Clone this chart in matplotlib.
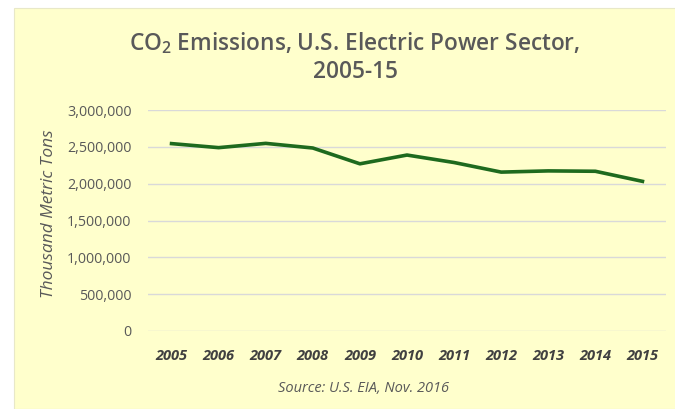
import matplotlib
matplotlib.use('Agg')
import matplotlib.pyplot as plt
from matplotlib.patches import Rectangle
from matplotlib.ticker import FuncFormatter

years = ['2005', '2006', '2007', '2008', '2009', '2010',
         '2011', '2012', '2013', '2014', '2015']
emissions = [2543838, 2488918, 2547032, 2484012, 2269508, 2388596,
             2287071, 2156875, 2173334, 2168284, 2031452]
y_ticks = [0, 500000, 1000000, 1500000, 2000000, 2500000, 3000000]

plt.rcParams['font.family'] = ['Open Sans', 'DejaVu Sans']
plt.rcParams['mathtext.default'] = 'regular'

W, H = 675, 409
fig = plt.figure(figsize=(W / 100, H / 100), dpi=100)
fig.patch.set_facecolor('white')
bg = '#FFFFCC'
fig.patches.append(Rectangle((14 / W, 0), 1, 1 - 8 / H, transform=fig.transFigure,
                             facecolor=bg, edgecolor='#E8E8C8', lw=0.8, zorder=-5))

ax = fig.add_axes([148 / W, 1 - 331 / H, (666 - 148) / W, (331 - 110) / H])
ax.set_zorder(2)
ax.patch.set_alpha(0)

x = list(range(len(years)))
ax.plot(x, emissions, color='#1E6A1E', lw=2.6, zorder=3)

ax.set_xlim(-0.5, len(years) - 0.5)
ax.set_ylim(0, 3000000)
ax.set_yticks(y_ticks)
ax.yaxis.set_major_formatter(FuncFormatter(lambda v, p: f'{int(v):,}'))
ax.set_xticks(x)
ax.set_xticklabels(years, fontsize=10.5, fontweight='bold', fontstyle='italic',
                   color='#404040')
ax.tick_params(axis='x', length=0, pad=13)
ax.tick_params(axis='y', length=0, pad=12, labelsize=10.3, labelcolor='#595959')
ax.grid(axis='y', color='#D9D9D9', lw=1)
ax.set_axisbelow(True)
for s in ax.spines.values():
    s.set_visible(False)

fig.text(49 / W, 1 - 214 / H, 'Thousand Metric Tons', rotation=90,
         ha='center', va='center', fontsize=12.5, fontstyle='italic', color='#595959')

fig.text(355 / W, 1 - 43 / H, 'CO$_2$ Emissions, U.S. Electric Power Sector,',
         ha='center', va='center', fontsize=16.3, fontweight='semibold', color='#595959')
fig.text(355 / W, 1 - 72 / H, '2005-15', ha='center', va='center',
         fontsize=16.3, fontweight='semibold', color='#595959')
fig.text(364 / W, 1 - 388 / H, 'Source: U.S. EIA, Nov. 2016', ha='center', va='center',
         fontsize=10.5, fontstyle='italic', color='#595959')

fig.savefig('out.png', dpi=100, facecolor='white')
